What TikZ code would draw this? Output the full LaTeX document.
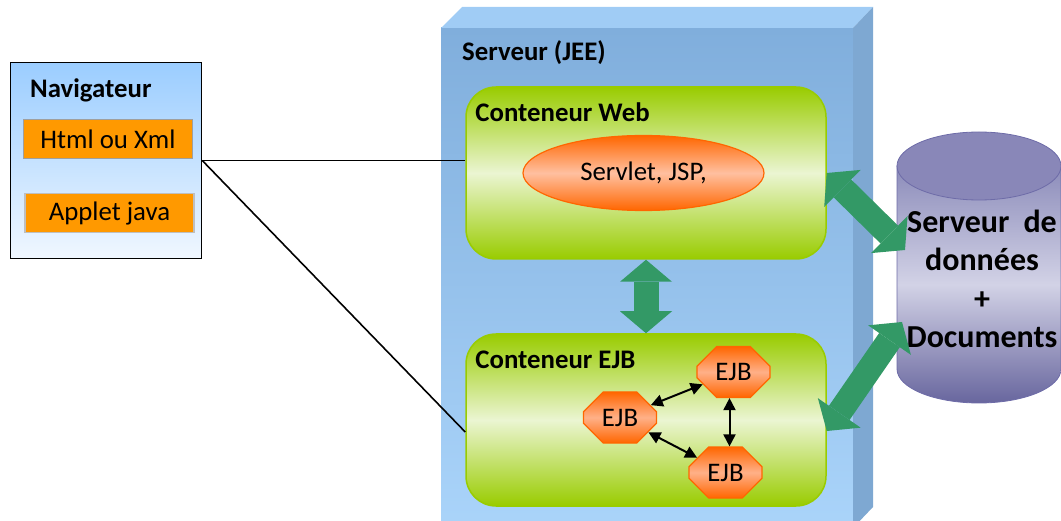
\documentclass[tikz,border=0pt]{standalone}
\usepackage{fontspec}
\setmainfont{Carlito}
\usepackage{tikz}
\usetikzlibrary{shapes.geometric, shapes.misc, arrows.meta, positioning, calc}
\definecolor{navtop}{HTML}{9BCDFF}
\definecolor{navbot}{HTML}{F0F7FF}
\definecolor{boxorange}{HTML}{FF9900}
\definecolor{srvfront}{HTML}{80AEDC}
\definecolor{srvfrontlow}{HTML}{AAD4FA}
\definecolor{srvtop}{HTML}{A0CCF5}
\definecolor{srvside}{HTML}{7EA8D2}
\definecolor{contgreen}{HTML}{99CC00}
\definecolor{contlight}{HTML}{EBF5D2}
\definecolor{beanorange}{HTML}{FF6600}
\definecolor{beanlight}{HTML}{FFB088}
\definecolor{flowgreen}{HTML}{339966}
\definecolor{dbtop}{HTML}{8C8CBA}
\definecolor{dbmid}{HTML}{D2D2E6}
\definecolor{dbbot}{HTML}{68669E}
\definecolor{dbcap}{HTML}{8987B8}
\definecolor{dbline}{HTML}{6E6CA8}

\begin{document}
\begin{tikzpicture}[
    x=1pt, y=-1pt,
    every node/.style={font=\fontsize{26.8}{31}\selectfont},
    lbl/.style={font=\fontsize{26.8}{31}\selectfont\bfseries, anchor=base west, inner sep=0pt},
    item/.style={rectangle, fill=boxorange, line width=1.5pt, minimum width=169pt, minimum height=39pt, inner sep=0pt},
    cont/.style={rectangle, rounded corners=30pt, draw=contgreen, line width=1.5pt, top color=contgreen, bottom color=contgreen, middle color=contlight, minimum width=360pt, minimum height=172pt},
    bean/.style={chamfered rectangle, chamfered rectangle xsep=11pt, chamfered rectangle ysep=11pt, draw=beanorange, line width=1.2pt, top color=beanorange, bottom color=beanorange, middle color=beanlight, minimum width=73pt, minimum height=51pt, inner sep=0pt},
    link/.style={{Triangle[length=12pt, width=12pt]}-{Triangle[length=12pt, width=12pt]}, line width=2pt},
    flow/.style={{Triangle[length=22pt, width=52pt, line width=0pt]}-{Triangle[length=22pt, width=52pt, line width=0pt]}, line width=25pt, draw=flowgreen}
]
\useasboundingbox (0,0) rectangle (1061,521);
\clip (0,0) rectangle (1061,521);

% Server (JEE)
\shade[top color=srvfront, bottom color=srvfrontlow] (441,28) rectangle (853,530);
\fill[srvtop] (441,28) -- (462,7) -- (873,7) -- (853,28) -- cycle;
\fill[srvside] (853,28) -- (873,7) -- (873,507) -- (853,528) -- cycle;
\node[lbl] (srvlbl) at (462,61) {Serveur (JEE)};

% Navigateur
\node[rectangle, draw=black, line width=1.5pt, top color=navtop, bottom color=navbot, minimum width=191pt, minimum height=196pt] (nav) at (106,160.5) {};
\node[lbl] (navlbl) at (30,98) {Navigateur};
\node[item, draw=gray!75] (html) at (108,139) {Html ou Xml};
\node[item, draw=gray!50] (applet) at (109.5,213) {Applet java};

% Containers
\node[cont] (web) at (646,173) {};
\node[cont] (ejb) at (646,420) {};
\node[lbl] (weblbl) at ([xshift=10pt, yshift=-35pt]web.north west) {Conteneur Web};
\node[lbl] (ejblbl) at ([xshift=10pt, yshift=-35pt]ejb.north west) {Conteneur EJB};

% Links from the browser
\draw[line width=1.6pt] (nav.east) -- (nav.east -| web.west);
\draw[line width=1.6pt] (nav.east) -- ([yshift=-12pt]ejb.west);

% Web components
\node[ellipse, draw=beanorange, line width=1.2pt, top color=beanorange, bottom color=beanorange, middle color=beanlight!80!white, minimum width=241pt, minimum height=75pt, inner sep=0pt] (servlet) at (643.5,173) {Servlet, JSP,};

% EJBs
\node[bean] (ejbT) at (733.5,372) {EJB};
\node[bean] (ejbL) at (620,417.5) {EJB};
\node[bean] (ejbB) at (725.5,472.5) {EJB};
\draw[link] (ejbL) -- (ejbT);
\draw[link] (ejbL) -- (ejbB);
\draw[link] ([xshift=-4pt]ejbT.south) -- ([xshift=4pt]ejbB.north);

% Database
\shade[top color=dbtop, bottom color=dbbot, middle color=dbmid, draw=dbline, line width=0.8pt] (897,166) -- (897,369) arc[start angle=180, end angle=0, x radius=82, y radius=34] -- (1061,166) -- cycle;
\filldraw[fill=dbcap, draw=dbline, line width=0.8pt] (979,166) ellipse [x radius=82, y radius=34];
\node[font=\fontsize{32}{38.5}\selectfont\bfseries, align=center, inner sep=0pt] (db) at (982,279) {Serveur\hspace{14pt}de\\données\\+\\Documents};
\coordinate (dbA) at (905,250);
\coordinate (dbB) at (902,322);

% Exchanges
\draw[flow] (web.south) -- (ejb.north);
\draw[flow] (web.east) -- (dbA);
\draw[flow] ([yshift=-11pt]ejb.east) -- (dbB);

\end{tikzpicture}
\end{document}
